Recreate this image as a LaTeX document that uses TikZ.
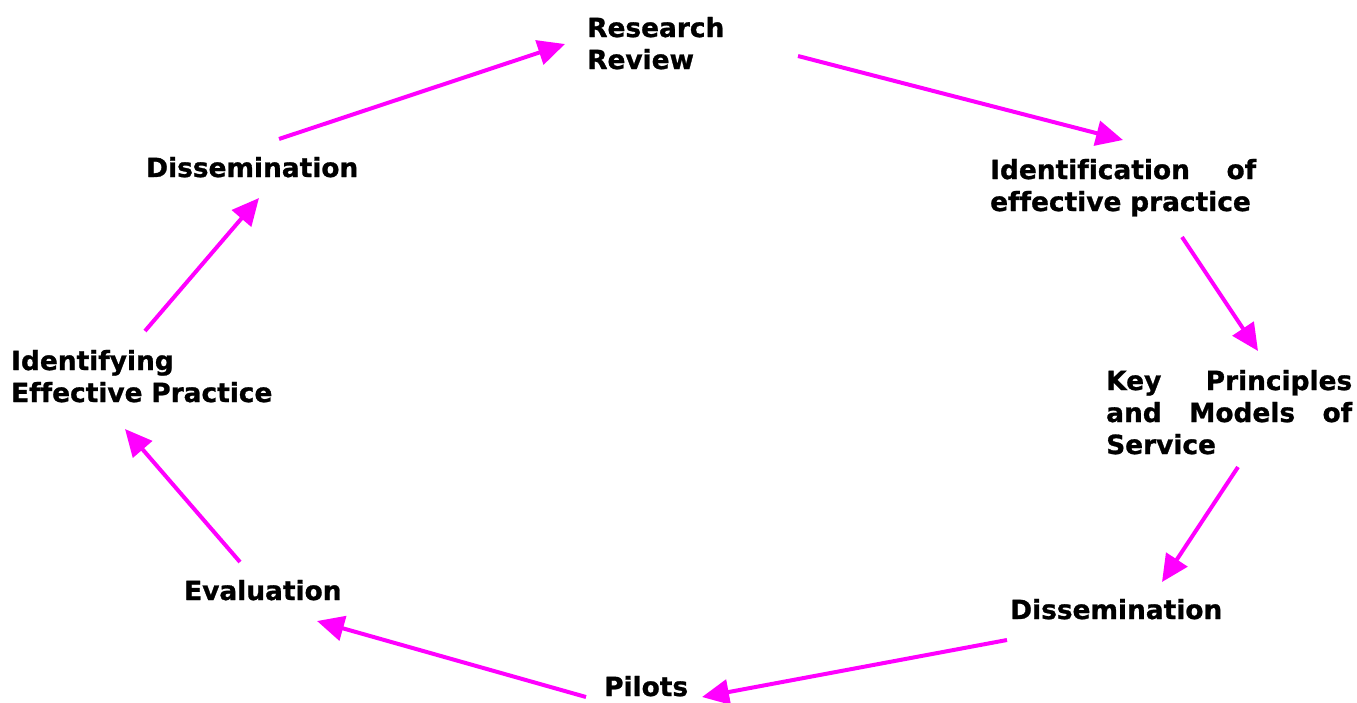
\documentclass[tikz,border=0pt]{standalone}
\usepackage{fontspec}
\setmainfont{DejaVu Sans}[Ligatures=NoCommon, BoldFeatures={FakeBold=1}]
\usepackage{tikz}
\usepackage{xcolor}
\usetikzlibrary{arrows.meta}

\definecolor{pinkline}{RGB}{255,0,255}

\begin{document}
\begin{tikzpicture}[x=1pt,y=-1pt,
		lbl/.style={font=\fontsize{26.4}{32}\selectfont\bfseries, inner sep=0pt, anchor=base west},
		flow/.style={-{Triangle[length=27pt,width=25pt]}, pinkline, line width=4pt}]
		\useasboundingbox (0,0) rectangle (1357,702);

		% stages round the cycle
		\node[lbl, text width=150pt] (review) at (587,37) {Research\\Review};
		\node[lbl, text width=266pt] (ident) at (990,179) {Identification\hfill of\\effective practice};
		\node[lbl, text width=246pt] (keyp) at (1106,390) {Key\hfill Principles\\and\hfill Models\hfill of\\Service};
		\node[lbl] (dissR) at (1010,619) {Dissemination};
		\node[lbl] (pilots) at (604,696) {Pilots};
		\node[lbl] (evalu) at (184,600) {Evaluation};
		\node[lbl, text width=270pt] (identL) at (11,370) {Identifying\\Effective Practice};
		\node[lbl] (dissL) at (146,177) {Dissemination};

		% arrows
		\draw[flow] ([shift={(133,-38)}]dissL.base west) -- ([shift={(-22,7)}]review.base west);
		\draw[flow] ([shift={(211,19)}]review.base west) -- ([shift={(133,-39)}]ident.base west);
		\draw[flow] ([shift={(192,58)}]ident.base west) -- ([shift={(152,-39)}]keyp.base west);
		\draw[flow] ([shift={(132,77)}]keyp.base west) -- ([shift={(152,-37)}]dissR.base west);
		\draw[flow] ([shift={(-3,21)}]dissR.base west) -- ([shift={(98,1)}]pilots.base west);
		\draw[flow] ([shift={(-18,1)}]pilots.base west) -- ([shift={(133,21)}]evalu.base west);
		\draw[flow] ([shift={(56,-38)}]evalu.base west) -- ([shift={(114,59)}]identL.base west);
		\draw[flow] ([shift={(134,-39)}]identL.base west) -- ([shift={(113,21)}]dissL.base west);
	\end{tikzpicture}
\end{document}
